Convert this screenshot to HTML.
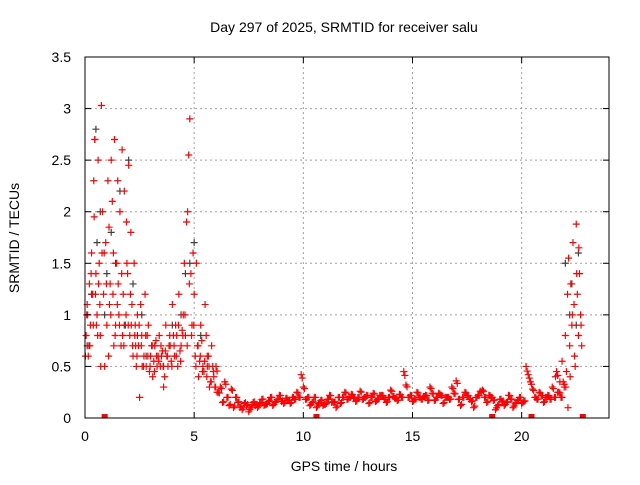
<!DOCTYPE html>
<html><head><meta charset="utf-8"><style>
html,body{margin:0;padding:0;background:#fff;}
svg text{font-family:"Liberation Sans",sans-serif;font-size:14px;fill:#000;}
</style></head><body>
<svg id="chart" width="640" height="480" viewBox="0 0 640 480" xmlns="http://www.w3.org/2000/svg">
<rect width="640" height="480" fill="#fff"/>
<g id="grid"></g>
<g id="gray"></g>
<g id="red"></g>
<rect x="85" y="57" width="524" height="361" fill="none" stroke="#000" stroke-width="1"/>
<g id="ticks"></g>
<text x="344" y="32" text-anchor="middle">Day 297 of 2025, SRMTID for receiver salu</text>
<text x="344" y="471" text-anchor="middle">GPS time / hours</text>
<text transform="translate(19,238) rotate(-90)" text-anchor="middle">SRMTID / TECUs</text>
</svg>
<script>
const xTicks=[0,5,10,15,20];
const yTicks=[0,0.5,1,1.5,2,2.5,3,3.5];
const yTickLabels=["0","0.5","1","1.5","2","2.5","3","3.5"];
const redTimes=[0.05,0.1,0.15,0.2,0.25,0.3,0.35,0.4,0.42,0.45,0.5,0.55,0.6,0.65,0.7,0.75,0.8,0.85,0.9,0.95,1.0,1.05,1.1,1.15,1.2,1.25,1.3,1.35,1.4,1.45,1.5,1.55,1.6,1.65,1.7,1.75,1.8,1.85,1.9,1.95,2.0,2.05,2.1,2.15,2.2,2.25,2.3,2.35,2.4,2.45,2.5,2.55,2.6,2.7,2.75,2.8,2.9,3.0,3.1,3.2,3.3,3.4,3.5,3.6,3.7,3.8,3.9,4.0,4.1,4.2,4.3,4.4,4.5,4.55,4.6,4.65,4.7,4.75,4.8,4.85,4.9,4.95,5.0,5.05,5.1,5.15,5.2,5.3,5.4,5.5,5.6,5.7,5.8,5.9,0.02,0.12,0.22,0.32,0.52,0.62,0.72,0.88,1.12,1.32,1.52,1.72,1.92,2.12,2.32,2.62,2.85,2.95,3.05,3.15,3.25,3.35,3.45,3.55,3.65,3.75,3.85,3.95,4.05,4.15,4.25,4.35,4.45,5.25,5.35,5.45,5.55,5.65,5.75,5.85,5.95,21.55,21.65,21.75,21.85,21.95,22.0,22.05,22.1,22.15,22.2,22.25,22.3,22.35,22.4,22.45,22.5,22.55,22.6,22.65,22.7,22.75,22.02,22.12,22.22,22.32,22.42,22.52,22.62,22.72];
const redValues=[0.8,1.1,0.6,1.3,0.9,1.6,1.2,2.3,1.95,2.7,1.4,1.0,2.5,1.5,0.8,3.03,2.0,1.2,0.5,1.7,0.9,2.3,1.85,1.3,2.5,2.1,1.6,2.7,0.9,1.5,2.3,1.0,2.0,0.7,2.6,1.2,2.2,0.9,1.9,1.4,2.45,0.8,1.8,1.1,0.6,1.5,0.9,0.5,1.0,0.7,0.2,1.1,0.8,0.6,1.2,0.5,0.9,0.6,0.4,0.7,0.5,0.8,0.6,0.3,0.9,0.5,0.7,1.1,0.6,0.8,1.2,0.7,1.0,1.5,0.8,1.9,2.0,2.55,2.9,1.4,0.9,1.6,1.2,0.6,1.5,0.7,0.4,0.9,0.5,1.1,0.6,0.3,0.7,0.4,0.6,1.0,0.7,1.2,0.9,1.3,0.5,1.6,1.1,0.7,1.3,0.8,1.5,0.9,0.7,0.5,0.8,0.45,0.7,0.55,0.75,0.6,0.5,0.65,0.4,0.6,0.7,0.55,0.8,0.9,0.5,0.65,0.85,0.55,0.75,0.45,0.8,0.6,0.35,0.5,0.3,0.4,0.25,0.35,0.55,0.3,0.8,0.45,1.2,1.55,0.7,1.3,0.9,1.7,1.1,0.5,1.88,1.2,0.8,1.4,1.0,0.7,0.3,0.1,0.4,1.0,0.6,1.4,1.65,0.9,1.2,0.55];
const extraTimes=[0.08,0.18,0.28,0.38,0.48,0.58,0.68,0.78,0.98,1.08,1.18,1.28,1.38,1.48,1.58,1.68,1.78,1.88,1.98,2.08,2.18,2.28,2.38,2.48,2.58,2.68,2.78,2.88,2.98,3.08,3.18,3.28,3.38,3.48,3.58,3.68,3.78,3.88,3.98,4.08,4.18,4.28,4.38,4.48,4.58,4.68,4.78,4.88,4.98,5.08,5.18,5.28,5.38,5.48,5.58,5.68,5.78,5.88,5.98,6.05];
const extraValues=[1.0,0.7,1.4,0.9,1.2,0.8,1.1,1.6,1.3,0.6,1.0,1.2,0.8,1.1,0.9,1.4,0.7,1.0,0.9,1.2,0.7,0.8,0.6,0.9,0.7,0.5,0.8,0.6,0.5,0.7,0.45,0.6,0.55,0.7,0.5,0.65,0.6,0.8,0.5,0.7,0.6,0.9,0.55,0.8,1.0,0.7,1.3,0.8,0.9,0.5,0.7,0.6,0.45,0.55,0.4,0.5,0.35,0.45,0.3,0.25];
const bandValues=[0.5,0.25,0.3,0.15,0.35,0.2,0.12,0.28,0.1,0.2,0.15,0.1,0.08,0.14,0.12,0.06,0.1,0.15,0.12,0.1,0.14,0.18,0.12,0.13,0.16,0.2,0.12,0.15,0.18,0.22,0.16,0.14,0.19,0.17,0.14,0.2,0.18,0.25,0.2,0.42,0.3,0.18,0.2,0.12,0.15,0.2,0.1,0.14,0.17,0.12,0.13,0.18,0.22,0.15,0.15,0.1,0.2,0.14,0.2,0.25,0.18,0.2,0.23,0.19,0.16,0.2,0.26,0.18,0.2,0.22,0.14,0.2,0.24,0.16,0.18,0.22,0.22,0.18,0.15,0.2,0.27,0.21,0.19,0.17,0.23,0.2,0.45,0.32,0.2,0.22,0.16,0.18,0.25,0.2,0.18,0.21,0.22,0.17,0.3,0.24,0.17,0.2,0.24,0.22,0.14,0.2,0.2,0.18,0.3,0.24,0.36,0.18,0.12,0.2,0.25,0.22,0.18,0.16,0.1,0.2,0.22,0.26,0.27,0.2,0.15,0.22,0.2,0.17,0.08,0.12,0.18,0.16,0.12,0.15,0.22,0.18,0.1,0.14,0.17,0.2,0.14,0.16,0.5,0.42,0.35,0.28,0.2,0.18,0.25,0.22,0.15,0.2,0.22,0.18,0.3,0.2,0.45,0.25,0.2,0.35];
const bandStart=6.0, bandStep=0.1;
const zeroTimes=[0.9,10.6,18.65,20.45,22.8];
const grayTimes=[0.1,0.3,0.45,0.5,0.55,0.7,0.9,1.0,1.2,1.4,1.6,1.8,2.0,2.2,2.4,2.6,2.8,3.2,3.6,4.0,4.4,4.6,4.8,5.0,5.3,5.6,22.0,22.2,22.3,22.5,22.6];
const grayValues=[0.7,1.2,2.7,2.8,1.7,2.0,1.0,1.4,1.8,1.5,2.2,0.9,2.5,1.3,0.8,1.0,0.6,0.7,0.5,0.9,1.0,1.4,1.5,1.7,0.8,0.5,1.5,1.0,1.3,0.9,1.6];
const NS="http://www.w3.org/2000/svg";
const X0=85,X1=609,Y0=418,Y1=57;
function xs(t){return X0+t/24*(X1-X0);}
function ys(v){return Y0-v/3.5*(Y0-Y1);}
const grid=document.getElementById('grid'),ticks=document.getElementById('ticks');
function mk(tag,attrs,parent){const e=document.createElementNS(NS,tag);for(const k in attrs)e.setAttribute(k,attrs[k]);parent.appendChild(e);return e;}
xTicks.forEach(t=>{
  const x=xs(t);
  if(t>0){const g=mk('line',{x1:x,x2:x,y1:Y1,y2:Y0,stroke:'#a0a0a0','stroke-dasharray':'2,3'},grid);
  
  }
  mk('line',{x1:x,x2:x,y1:Y0,y2:Y0-6,stroke:'#000'},ticks);
  mk('line',{x1:x,x2:x,y1:Y1,y2:Y1+6,stroke:'#000'},ticks);
  const tx=mk('text',{x:x,y:Y0+23,'text-anchor':'middle'},ticks);tx.textContent=t;
  
  
});
yTicks.forEach((v,i)=>{
  const y=ys(v);
  if(v>0&&v<3.5){const g=mk('line',{x1:X0,x2:X1,y1:y,y2:y,stroke:'#a0a0a0','stroke-dasharray':'2,3'},grid);
  
  }
  mk('line',{x1:X0,x2:X0+6,y1:y,y2:y,stroke:'#000'},ticks);
  mk('line',{x1:X1,x2:X1-6,y1:y,y2:y,stroke:'#000'},ticks);
  const tx=mk('text',{x:X0-14,y:y+5,'text-anchor':'end'},ticks);tx.textContent=yTickLabels[i];
  
  
});
function plus(t,v,color,parent){
  const x=xs(t),y=ys(v);
  const p=mk('path',{d:`M${x-3.5},${y}H${x+3.5}M${x},${y-3.5}V${y+3.5}`,stroke:color,'stroke-width':1.2,fill:'none'},parent);
  
  
}
const gray=document.getElementById('gray'),red=document.getElementById('red');
grayTimes.forEach((t,i)=>plus(t,grayValues[i],'#404040',gray));
redTimes.forEach((t,i)=>plus(t,redValues[i],'#ff0000',red));
extraTimes.forEach((t,i)=>plus(t,extraValues[i],'#ff0000',red));
bandValues.forEach((v,i)=>{const t=bandStart+i*bandStep;plus(t,v,'#ff0000',red);plus(t+0.05,v*0.85+0.03,'#ff0000',red);});
zeroTimes.forEach(t=>{const r=mk('rect',{x:xs(t)-3,y:Y0-4,width:6,height:4,fill:'#ff0000'},red);

});
</script>
</body></html>
